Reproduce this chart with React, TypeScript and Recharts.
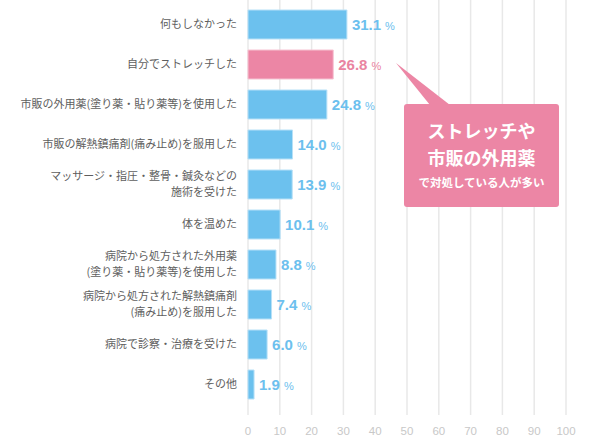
import { BarChart, Bar, XAxis, YAxis, CartesianGrid, Cell, LabelList } from "recharts";

const categories = [
  "何もしなかった",
  "自分でストレッチした",
  "市販の外用薬(塗り薬・貼り薬等)を使用した",
  "市販の解熱鎮痛剤(痛み止め)を服用した",
  "マッサージ・指圧・整骨・鍼灸などの\n施術を受けた",
  "体を温めた",
  "病院から処方された外用薬\n(塗り薬・貼り薬等)を使用した",
  "病院から処方された解熱鎮痛剤\n(痛み止め)を服用した",
  "病院で診察・治療を受けた",
  "その他",
];

const values = [31.1, 26.8, 24.8, 14.0, 13.9, 10.1, 8.8, 7.4, 6.0, 1.9];

const xTicks = [0, 10, 20, 30, 40, 50, 60, 70, 80, 90, 100];

// index of the highlighted bar (自分でストレッチした)
const highlightIndex = 1;

const BLUE = "#6cc1ee";
const PINK = "#ec86a5";
const JP_FONT = '"Noto Sans CJK JP", "Noto Sans", sans-serif';
const NUM_FONT = '"Liberation Sans", Arial, sans-serif';

const data = categories.map((name, i) => ({ name, value: values[i], idx: i }));

function CategoryTick({ x, y, payload }: any) {
  const lines = String(payload.value).split("\n");
  const start = -((lines.length - 1) * 16) / 2;
  return (
    <text
      x={x - 3}
      y={y}
      textAnchor="end"
      fill="#5e5e5e"
      fontSize={11}
      fontFamily={JP_FONT}
    >
      {lines.map((line, i) => (
        <tspan key={i} x={x - 3} y={y + start + i * 16} dy="0.36em">
          {line}
        </tspan>
      ))}
    </text>
  );
}

function ValueTick({ x, y, payload }: any) {
  return (
    <text
      x={x}
      y={y}
      dy={12}
      textAnchor="middle"
      fill="#c8c8c8"
      fontSize={11.5}
      fontFamily={NUM_FONT}
    >
      {payload.value}
    </text>
  );
}

function ValueLabel(props: any) {
  const { x, y, width, height, value, index } = props;
  const color = index === highlightIndex ? "#ea84a1" : "#6cc0ee";
  return (
    <text
      x={x + width + 5}
      y={y + height / 2}
      dy="0.36em"
      fill={color}
      fontFamily={NUM_FONT}
    >
      <tspan fontSize={15} fontWeight="bold">
        {Number(value).toFixed(1)}
      </tspan>
      <tspan fontSize={11} dx={4}>
        %
      </tspan>
    </text>
  );
}

export default function App() {
  return (
    <div style={{ position: "absolute", left: 0, top: 0, width: 590, height: 438 }}>
      <BarChart
        width={590}
        height={438}
        data={data}
        layout="vertical"
        margin={{ top: 0, right: 24, bottom: 0, left: 0 }}
        barSize={29}
      >
        <CartesianGrid horizontal={false} stroke="#e8e8e8" strokeWidth={1.5} />
        <XAxis
          type="number"
          domain={[0, 100]}
          ticks={xTicks}
          axisLine={false}
          tickLine={false}
          height={23}
          tick={<ValueTick />}
          interval={0}
        />
        <YAxis
          type="category"
          dataKey="name"
          width={248}
          axisLine={false}
          tickLine={false}
          padding={{ top: 4, bottom: 11 }}
          tick={<CategoryTick />}
          interval={0}
        />
        <Bar dataKey="value" isAnimationActive={false} strokeWidth={1}>
          {data.map((d) => (
            <Cell
              key={d.idx}
              fill={d.idx === highlightIndex ? PINK : BLUE}
              stroke={d.idx === highlightIndex ? "#f6c3d2" : "#b6e0f7"}
            />
          ))}
          <LabelList dataKey="value" content={<ValueLabel />} />
        </Bar>
      </BarChart>
      <svg
        width={590}
        height={438}
        style={{ position: "absolute", left: 0, top: 0, pointerEvents: "none" }}
      >
        <polygon points="396,63 430,105 450,105" fill={PINK} />
        <rect x={404} y={104} width={155} height={103} rx={3} fill={PINK} />
        <g fill="#fff" fontFamily={JP_FONT} fontWeight="bold" textAnchor="middle">
          <text x={481.5} y={132} dy="0.36em" fontSize={18}>
            ストレッチや
          </text>
          <text x={481.5} y={159} dy="0.36em" fontSize={18}>
            市販の外用薬
          </text>
          <text x={481.5} y={183} dy="0.36em" fontSize={11.5}>
            で対処している人が多い
          </text>
        </g>
      </svg>
    </div>
  );
}
